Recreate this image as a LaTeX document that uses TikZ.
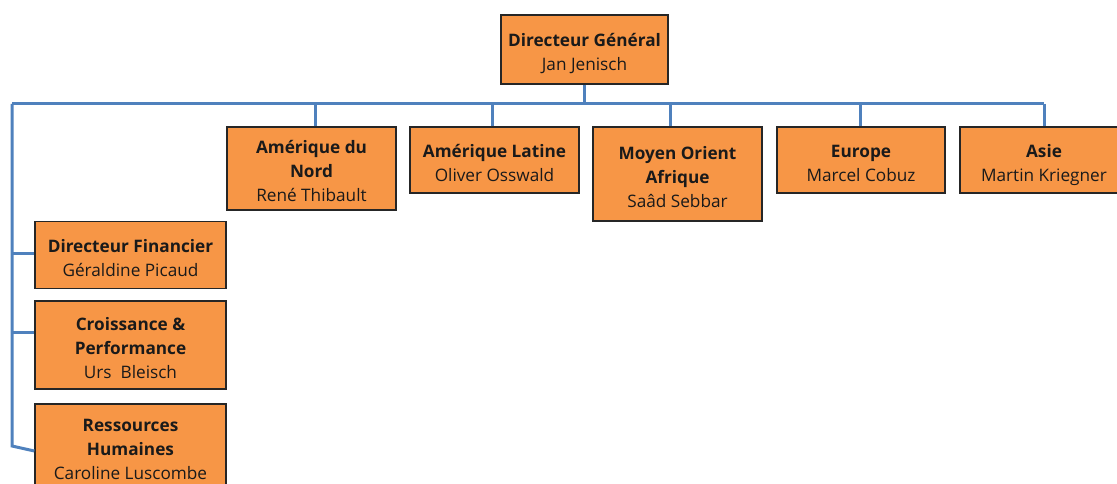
\documentclass[tikz,border=0pt]{standalone}
\usepackage{fontspec}
\setmainfont{Open Sans}
\definecolor{boxfill}{HTML}{F79646}
\definecolor{linkblue}{HTML}{4F81BD}
\definecolor{txt}{HTML}{1A1A1A}
\newcommand{\boxlines}[1]{\raisebox{-4.5pt}[\height][\depth]{\begin{tabular}{@{}c@{}}#1\end{tabular}}}
\begin{document}
\begin{tikzpicture}[x=1pt,y=-1pt,
  orgbox/.style={draw=black!85, line width=1.3pt, fill=boxfill,
    inner sep=0pt, text=txt, font=\fontsize{17.2}{23.8}\selectfont},
  link/.style={draw=linkblue, line width=3pt}]
\useasboundingbox (0,0) rectangle (1117,484);
\clip (0,0) rectangle (1117,484);
\node[orgbox, minimum width=167pt, minimum height=69pt] (dg) at (584.5,49.5) {\boxlines{\textbf{Directeur Général}\\Jan Jenisch}};
\node[orgbox, minimum width=169pt, minimum height=83pt] (an) at (311.5,168.5) {\boxlines{\textbf{Amérique du}\\\textbf{Nord}\\René Thibault}};
\node[orgbox, minimum width=169pt, minimum height=66pt] (al) at (494.5,160) {\boxlines{\textbf{Amérique Latine}\\Oliver Osswald}};
\node[orgbox, minimum width=169pt, minimum height=94pt] (moa) at (677.5,174) {\boxlines{\textbf{Moyen Orient}\\\textbf{Afrique}\\Saâd Sebbar}};
\node[orgbox, minimum width=168pt, minimum height=66pt] (eu) at (861,160) {\boxlines{\textbf{Europe}\\Marcel Cobuz}};
\node[orgbox, minimum width=168pt, minimum height=66pt] (as) at (1044,160) {\boxlines{\textbf{Asie}\\Martin Kriegner}};
\node[orgbox, minimum width=191pt, minimum height=67pt] (df) at (130.5,255) {\boxlines{\textbf{Directeur Financier}\\Géraldine Picaud}};
\node[orgbox, minimum width=191pt, minimum height=88pt] (cp) at (130.5,345) {\boxlines{\textbf{Croissance \&}\\\textbf{Performance}\\Urs\ \ Bleisch}};
\node[orgbox, minimum width=191pt, minimum height=84pt] (rh) at (130.5,446) {\boxlines{\textbf{Ressources}\\\textbf{Humaines}\\Caroline Luscombe}};
\coordinate (busL) at (12,104);
\coordinate (busR) at (1044,104);
\draw[link] (dg.south) -- (dg.south |- busL);
\draw[link] (busL) -- (busR);
\draw[link] ([xshift=3.5pt]an.north) -- ([xshift=3.5pt]an.north |- busL);
\draw[link] ([xshift=-2pt]al.north) -- ([xshift=-2pt]al.north |- busL);
\draw[link] ([xshift=-7pt]moa.north) -- ([xshift=-7pt]moa.north |- busL);
\draw[link] ([xshift=-1pt]eu.north) -- ([xshift=-1pt]eu.north |- busL);
\draw[link] (busR) -- (as.north);
\draw[link] (busL) -- (busL |- rh.west) -- ([yshift=-5pt]rh.west);
\draw[link] ([yshift=2pt]busL |- df.west) -- ([yshift=2pt]df.west);
\draw[link] ([yshift=13pt]busL |- cp.west) -- ([yshift=13pt]cp.west);
\end{tikzpicture}
\end{document}
